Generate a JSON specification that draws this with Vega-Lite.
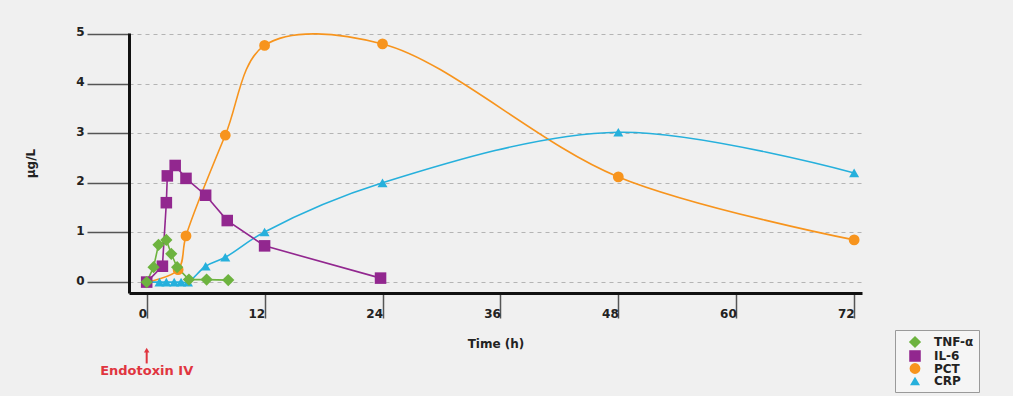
{
  "$schema": "https://vega.github.io/schema/vega-lite/v6.json",
  "width": 733,
  "height": 260,
  "autosize": {"type": "none"},
  "padding": {"left": 129, "top": 33, "right": 151, "bottom": 103},
  "background": "#f0f0f0",
  "config": {
    "view": {"stroke": null},
    "font": "DejaVu Sans",
    "axis": {
      "labelFont": "DejaVu Sans",
      "labelFontWeight": "bold",
      "labelFontSize": 12,
      "labelColor": "#222",
      "titleFont": "DejaVu Sans",
      "titleFontWeight": "bold",
      "titleFontSize": 12,
      "titleColor": "#222",
      "domainColor": "#111",
      "domainWidth": 3,
      "tickColor": "#555",
      "tickWidth": 1.5
    }
  },
  "data": {
    "values": [
      {"event": "Endotoxin IV", "time": 0},
      {"marker": "PCT", "time": 0, "value": 0},
      {"marker": "PCT", "time": 3.2, "value": 0.25},
      {"marker": "PCT", "time": 4, "value": 0.93},
      {"marker": "PCT", "time": 8, "value": 2.96},
      {"marker": "PCT", "time": 12, "value": 4.77},
      {"marker": "PCT", "time": 24, "value": 4.8},
      {"marker": "PCT", "time": 48, "value": 2.12},
      {"marker": "PCT", "time": 72, "value": 0.85},
      {"marker": "CRP", "time": 0, "value": 0},
      {"marker": "CRP", "time": 1.3, "value": 0},
      {"marker": "CRP", "time": 2, "value": 0},
      {"marker": "CRP", "time": 2.8, "value": 0},
      {"marker": "CRP", "time": 3.5, "value": 0},
      {"marker": "CRP", "time": 4.2, "value": 0},
      {"marker": "CRP", "time": 6, "value": 0.32},
      {"marker": "CRP", "time": 8, "value": 0.5},
      {"marker": "CRP", "time": 12, "value": 1.01},
      {"marker": "CRP", "time": 24, "value": 2.0},
      {"marker": "CRP", "time": 48, "value": 3.02},
      {"marker": "CRP", "time": 72, "value": 2.2},
      {"marker": "IL-6", "time": 0, "value": 0},
      {"marker": "IL-6", "time": 1.6, "value": 0.32},
      {"marker": "IL-6", "time": 2, "value": 1.6},
      {"marker": "IL-6", "time": 2.1, "value": 2.14},
      {"marker": "IL-6", "time": 2.9, "value": 2.35},
      {"marker": "IL-6", "time": 4, "value": 2.09},
      {"marker": "IL-6", "time": 6, "value": 1.75},
      {"marker": "IL-6", "time": 8.2, "value": 1.24},
      {"marker": "IL-6", "time": 12, "value": 0.73},
      {"marker": "IL-6", "time": 23.8, "value": 0.08},
      {"marker": "TNF-α", "time": 0, "value": 0},
      {"marker": "TNF-α", "time": 0.7, "value": 0.3},
      {"marker": "TNF-α", "time": 1.2, "value": 0.75},
      {"marker": "TNF-α", "time": 2, "value": 0.85},
      {"marker": "TNF-α", "time": 2.5, "value": 0.57},
      {"marker": "TNF-α", "time": 3.1, "value": 0.3},
      {"marker": "TNF-α", "time": 4.3, "value": 0.05},
      {"marker": "TNF-α", "time": 6.1, "value": 0.05},
      {"marker": "TNF-α", "time": 8.3, "value": 0.04}
    ]
  },
  "layer": [
    {
      "encoding": {
        "x": {
          "field": "time",
          "type": "quantitative",
          "title": "Time (h)",
          "scale": {"domain": [-1.8, 72.8], "nice": false, "zero": false},
          "axis": {
            "values": [0, 12, 24, 36, 48, 60, 72],
            "grid": false,
            "tickSize": 25,
            "labelAlign": "right",
            "labelBaseline": "middle",
            "labelPadding": -5,
            "labelDx": -3,
            "titleY": 50,
            "titleBaseline": "middle"
          }
        },
        "y": {
          "field": "value",
          "type": "quantitative",
          "title": "µg/L",
          "scale": {"domain": [-0.22, 5.02], "nice": false, "zero": false},
          "axis": {
            "values": [0, 1, 2, 3, 4, 5],
            "grid": true,
            "gridDash": [4, 4],
            "gridColor": "#b4b4b4",
            "gridWidth": 1,
            "tickSize": 42,
            "labelPadding": 3,
            "labelOffset": -2,
            "titleX": -99,
            "titleY": 130,
            "titleAlign": "center",
            "titleBaseline": "middle"
          }
        }
      },
      "layer": [
        {
          "transform": [{"filter": "datum.marker === 'PCT'"}],
          "mark": {"type": "line", "interpolate": "catmull-rom", "strokeWidth": 1.6, "color": "#f7941d"},
          "encoding": {}
        },
        {
          "transform": [{"filter": "datum.marker === 'CRP'"}],
          "mark": {"type": "line", "interpolate": "catmull-rom", "strokeWidth": 1.6, "color": "#26b0dc"},
          "encoding": {}
        },
        {
          "transform": [{"filter": "datum.marker === 'IL-6'"}],
          "mark": {"type": "line", "interpolate": "linear", "strokeWidth": 1.6, "color": "#92278f"},
          "encoding": {}
        },
        {
          "transform": [{"filter": "datum.marker === 'TNF-α'"}],
          "mark": {"type": "line", "interpolate": "linear", "strokeWidth": 1.6, "color": "#6db33f"},
          "encoding": {}
        },
        {
          "transform": [{"filter": "datum.marker != null"}],
          "mark": {"type": "point", "filled": true, "opacity": 1},
          "encoding": {
            "color": {
              "field": "marker", "type": "nominal",
              "scale": {"domain": ["TNF-α", "IL-6", "PCT", "CRP"], "range": ["#6db33f", "#92278f", "#f7941d", "#26b0dc"]},
              "legend": {
                "title": null,
                "orient": "none",
                "legendX": 766,
                "legendY": 297,
                "fillColor": "#f5f5f5",
                "strokeColor": "#9a9a9a",
                "padding": 5,
                "symbolOffset": 8,
                "symbolSize": 70,
                "labelFont": "DejaVu Sans",
                "labelFontWeight": "bold",
                "labelFontSize": 12,
                "labelColor": "#222",
                "labelOffset": 12,
                "rowPadding": 0
              }
            },
            "shape": {
              "field": "marker", "type": "nominal",
              "scale": {"domain": ["TNF-α", "IL-6", "PCT", "CRP"], "range": ["diamond", "square", "circle", "triangle-up"]}
            },
            "size": {
              "field": "marker", "type": "nominal", "legend": null,
              "scale": {"domain": ["TNF-α", "IL-6", "PCT", "CRP"], "range": [150, 100, 80, 90]}
            }
          }
        }
      ]
    },
    {
      "transform": [{"filter": "datum.event != null"}],
      "mark": {"type": "rule", "color": "#e0353f", "strokeWidth": 2},
      "encoding": {
        "x": {"datum": 0, "title": "Time (h)"},
        "y": {"datum": -1.4, "title": "µg/L"},
        "y2": {"datum": -1.64}
      }
    },
    {
      "transform": [{"filter": "datum.event != null"}],
      "mark": {"type": "point", "shape": "triangle-up", "filled": true, "color": "#e0353f", "size": 30, "opacity": 1},
      "encoding": {
        "x": {"datum": 0, "title": "Time (h)"},
        "y": {"datum": -1.37, "title": "µg/L"}
      }
    },
    {
      "transform": [{"filter": "datum.event != null"}],
      "mark": {"type": "text", "color": "#e0353f", "font": "DejaVu Sans", "fontWeight": "bold", "fontSize": 13, "align": "center", "baseline": "middle"},
      "encoding": {
        "x": {"datum": 0, "title": "Time (h)"},
        "y": {"datum": -1.79, "title": "µg/L"},
        "text": {"field": "event"}
      }
    }
  ]
}
